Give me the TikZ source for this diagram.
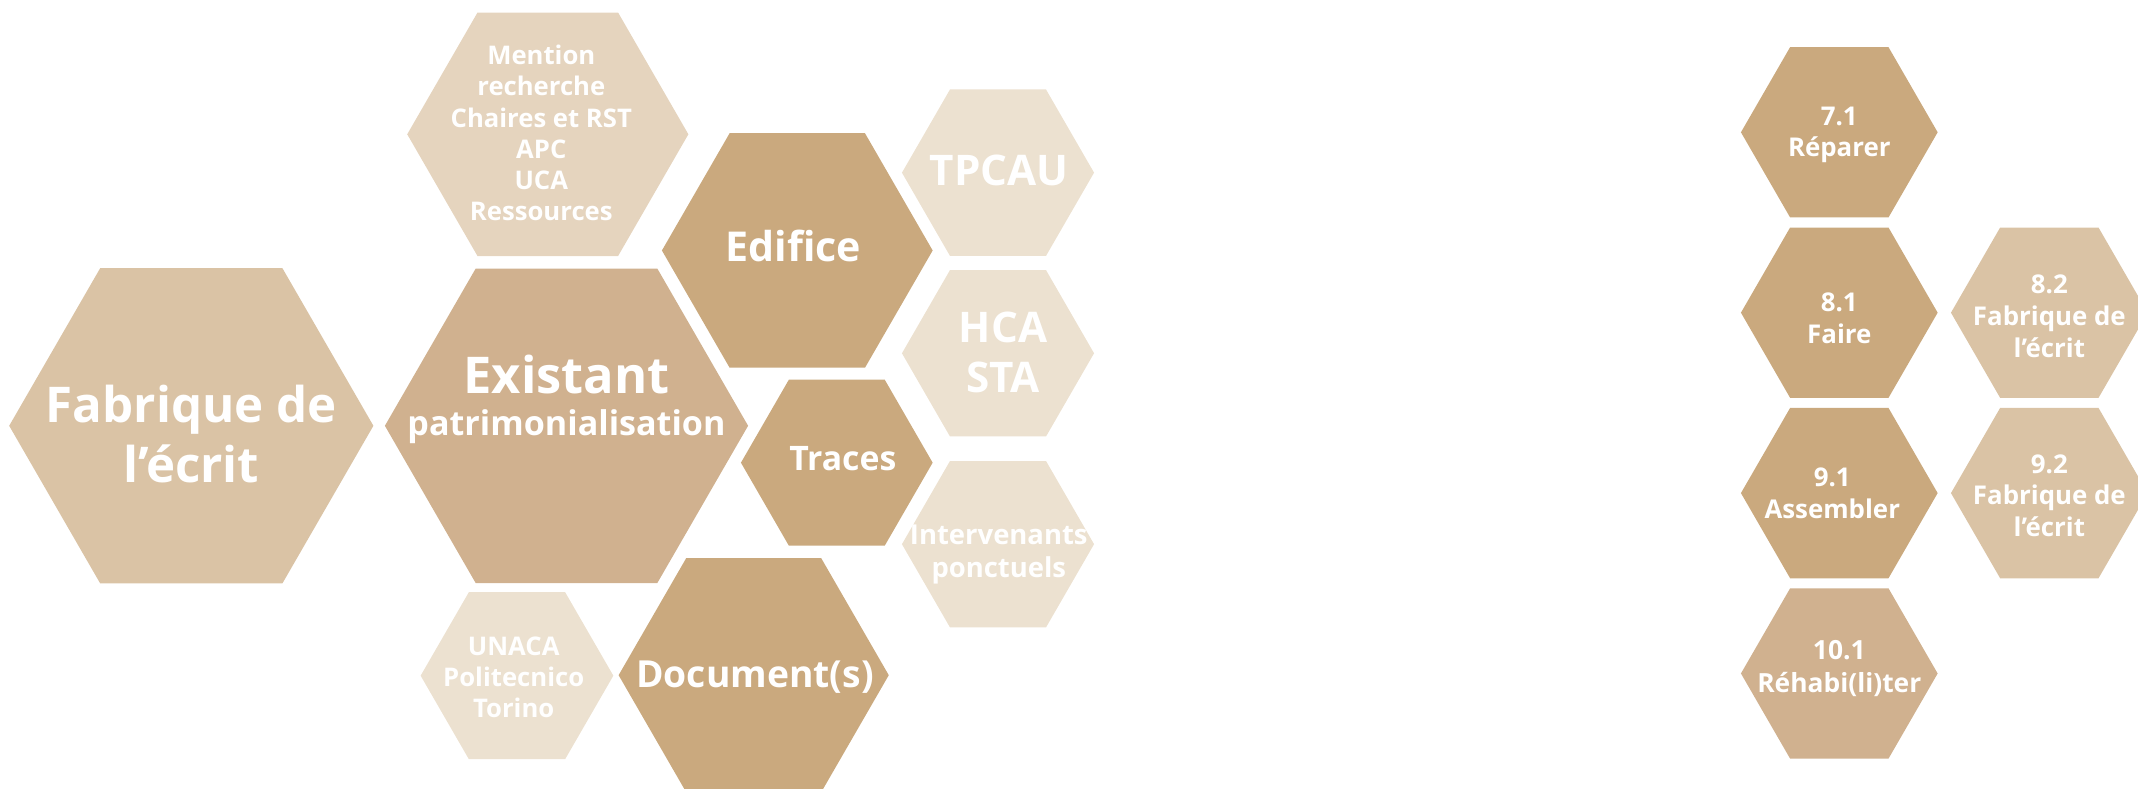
\documentclass[tikz,border=0pt]{standalone}
\usepackage{fontspec}
\setmainfont{Open Sans}
\usepackage{tikz}
\usetikzlibrary{positioning, shapes.geometric}
\definecolor{hexdark}{RGB}{202,169,126}
\definecolor{hexmid}{RGB}{208,177,143}
\definecolor{hexsand}{RGB}{218,195,165}
\definecolor{hexpale}{RGB}{229,212,190}
\definecolor{hexlight}{RGB}{236,225,208}
\tikzset{
  hexcell/.style={regular polygon, regular polygon sides=6, inner sep=0pt,
                  outer sep=0pt, fill=#1, draw=none},
  hexcell/.default=hexdark,
  hextext/.style 2 args={text=white, align=center, inner sep=0pt,
                         font=\bfseries\fontsize{#1}{#2}\selectfont},
  smallhex/.style={hexcell=#1, minimum size=1.966cm},
}

\begin{document}
\begin{tikzpicture}[x=0.01cm, y=-0.01cm]
  \useasboundingbox (0,0) rectangle (2138,789);

  % Left cluster
  \node[hexcell=hexsand, minimum size=3.64cm]  (hex-fabrique) at (191.3,425.8) {};
  \node[hexcell=hexmid, minimum size=3.63cm]   (hex-existant) at (566.5,425.8) {};
  \node[hexcell=hexpale, minimum size=2.81cm]  (hex-mention) at (547.8,134.3) {};
  \node[hexcell=hexdark, minimum size=2.706cm] (hex-edifice) at (797.3,250.5) {};
  \node[hexcell=hexdark, minimum size=1.916cm] (hex-traces) at (836.8,462.7) {};
  \node[hexcell=hexdark, minimum size=2.70cm]  (hex-document) at (753.7,675.2) {};
  \node[hexcell=hexlight, minimum size=1.926cm] (hex-unaca) at (517,675.7) {};
  \node[hexcell=hexlight, minimum size=1.92cm] (hex-tpcau) at (998,172.7) {};
  \node[hexcell=hexlight, minimum size=1.92cm] (hex-hca) at (998,353.3) {};
  \node[hexcell=hexlight, minimum size=1.92cm] (hex-interv) at (998,544.2) {};

  % Left labels
  \node[hextext={14}{17.1}] (fabrique) at (191.3,433.7) {Fabrique de\\l’écrit};
  \node[hextext={9.7}{12.06}] (existant) at (566.5,399.5)
    {{\fontsize{14.4}{17}\selectfont Existant}\\patrimonialisation};
  \node[hextext={7.3}{8.85}] (mention) at (541.3,133)
    {Mention\\recherche\\Chaires et RST\\APC\\UCA\\Ressources};
  \node[hextext={11.7}{14}] (edifice) at (793.5,246.1) {Edifice};
  \node[hextext={9.6}{11.5}] (traces) at (842.8,458.7) {Traces};
  \node[hextext={10.6}{12.7}] (document) at (755,677.2) {Document(s)};
  \node[hextext={7.3}{8.8}] (unaca) at (513.7,677.5)
    {UNACA\\Politecnico\\Torino};
  \node[hextext={12}{14.2}] (tpcau) at (999.2,170.9) {TPCAU};
  \node[hextext={12}{14.2}] (hca) at (1003,352.6) {HCA\\STA};
  \node[hextext={7.8}{9.5}] (interv) at (998.8,554.3)
    {Intervenants\\ponctuels};

  % Right column
  \node[smallhex=hexdark] (hex-71) at (1839.3,132.3) {};
  \node[smallhex=hexdark, below=0.1cm of hex-71] (hex-81) {};
  \node[smallhex=hexdark, below=0.1cm of hex-81] (hex-91) {};
  \node[smallhex=hexmid, below=0.1cm of hex-91] (hex-101) {};
  \node[smallhex=hexsand, right=0.133cm of hex-81] (hex-82) {};
  \node[smallhex=hexsand, right=0.133cm of hex-91] (hex-92) {};

  % Right labels
  \node[hextext={7.35}{9}, yshift=-0.7pt] (r71) at (hex-71) {7.1\\Réparer};
  \node[hextext={7.35}{9}, yshift=-1.5pt] (r81) at (hex-81) {8.1\\Faire};
  \node[hextext={7.35}{9}, yshift=-1pt] (r82) at (hex-82)
    {8.2\\Fabrique de\\l’écrit};
  \node[hextext={7.35}{9}, xshift=-2pt] (r91) at (hex-91) {9.1\\Assembler};
  \node[hextext={7.35}{9}, yshift=-0.7pt] (r92) at (hex-92)
    {9.2\\Fabrique de\\l’écrit};
  \node[hextext={7.5}{9.4}, yshift=1.3pt] (r101) at (hex-101)
    {10.1\\Réhabi(li)ter};

\end{tikzpicture}
\end{document}
